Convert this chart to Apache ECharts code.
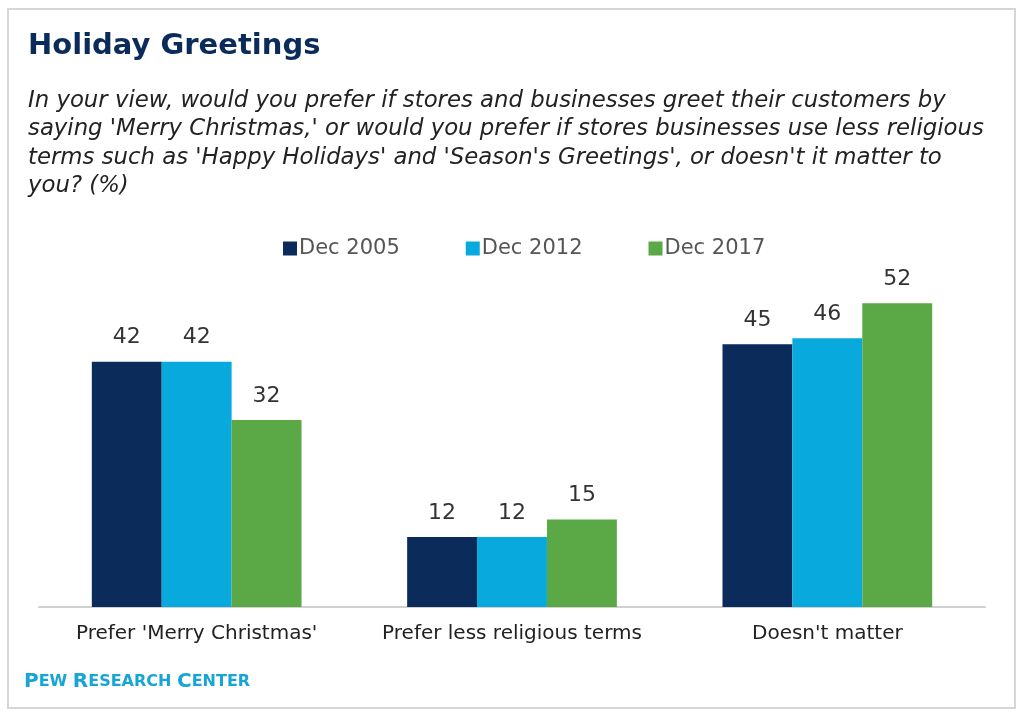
<!DOCTYPE html>
<html><head><meta charset="utf-8">
<script src="https://cdn.jsdelivr.net/npm/echarts@6/dist/echarts.min.js"></script>
<style>html,body{margin:0;padding:0;background:#fff}#c{width:1024px;height:718px}</style>
</head><body><div id="c"></div>
<script>
const categories = ["Prefer 'Merry Christmas'", "Prefer less religious terms", "Doesn't matter"];
const seriesNames = ["Dec 2005", "Dec 2012", "Dec 2017"];
const dec2005 = [42, 12, 45];
const dec2012 = [42, 12, 46];
const dec2017 = [32, 15, 52];
const colors = ["#0b2c5b", "#08a9dc", "#5aa846"];
const titleText = "Holiday Greetings";
const subtitleLines = [
  "In your view, would you prefer if stores and businesses greet their customers by",
  "saying 'Merry Christmas,' or would you prefer if stores businesses use less religious",
  "terms such as 'Happy Holidays' and 'Season's Greetings', or doesn't it matter to",
  "you? (%)"
];
const FONT = "DejaVu Sans";
const chart = echarts.init(document.getElementById('c'));
const values = [dec2005, dec2012, dec2017];
chart.setOption({
  animation: false,
  color: colors,
  textStyle: { fontFamily: FONT },
  title: [
    { text: titleText, left: 23, top: 27, textStyle: { fontFamily: FONT, fontSize: 29, fontWeight: 'bold', color: '#0b2c5b' } },
    { text: subtitleLines.join('\n'), left: 23, top: 81.5, textStyle: { fontFamily: FONT, fontSize: 22.8, fontStyle: 'italic', fontWeight: 'normal', color: '#222', lineHeight: 28.5 } },
    { text: '{a|P}{b|EW }{a|R}{b|ESEARCH }{a|C}{b|ENTER}', left: 19, top: 667,
      textStyle: { rich: {
        a: { fontFamily: FONT, fontSize: 20, fontWeight: 'bold', color: '#17a4d6' },
        b: { fontFamily: FONT, fontSize: 16, fontWeight: 'bold', color: '#17a4d6' }
      } } }
  ],
  legend: {
    top: 233, left: 278, itemWidth: 14, itemHeight: 14, itemGap: 66, icon: 'rect',
    textStyle: { fontFamily: FONT, fontSize: 21, color: '#555', padding: [0,0,0,-3] },
    data: seriesNames
  },
  grid: { left: 39, right: 39, top: 256.6, bottom: 111, containLabel: false },
  xAxis: {
    type: 'category', data: categories,
    axisLine: { lineStyle: { color: '#d0d0d0', width: 2 } },
    axisTick: { show: false },
    axisLabel: { interval: 0, fontFamily: FONT, fontSize: 20, color: '#222', margin: 17 }
  },
  yAxis: { type: 'value', min: 0, max: 60, show: false, splitLine: { show: false } },
  series: seriesNames.map((n, i) => ({
    name: n, type: 'bar', data: values[i], barGap: '0%', barCategoryGap: '33.5%',
    label: { show: true, position: 'top', distance: 13, fontFamily: FONT, fontSize: 22, color: '#333' }
  })),
  graphic: [{ type: 'rect', shape: { x: 8, y: 9, width: 1007, height: 699 }, style: { fill: 'none', stroke: '#d6d6d6', lineWidth: 2 }, silent: true }]
});
</script></body></html>
